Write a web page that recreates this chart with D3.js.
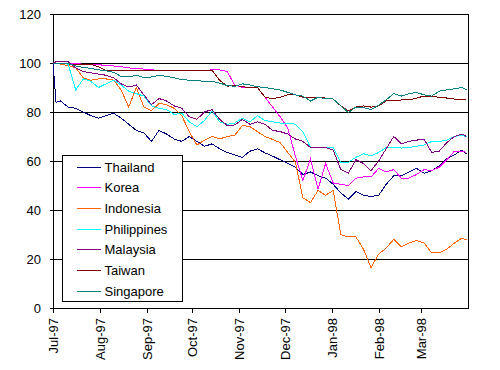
<!DOCTYPE html>
<html>
<head>
<meta charset="utf-8">
<script src="https://cdn.jsdelivr.net/npm/d3@7"></script>
<style>
  body { margin: 0; background: #fff; }
  text { font-family: "Liberation Sans", Arial, sans-serif; font-size: 13px; fill: #000; }
</style>
</head>
<body>
<svg id="chart"></svg>
<script>
// series names and colours
const countries = ['Thailand', 'Korea', 'Indonesia', 'Philippines', 'Malaysia', 'Taiwan', 'Singapore'];
const colors = ['#000080', '#ff00ff', '#ff6600', '#00ffff', '#800080', '#800000', '#008080'];

// sample dates (index, Jul 1 1997 = 100)
const dates = [
  '1997-07-01', '1997-07-03', '1997-07-06', '1997-07-11', '1997-07-16', '1997-07-21', '1997-07-26', '1997-07-31',
  '1997-08-05', '1997-08-10', '1997-08-15', '1997-08-20', '1997-08-25', '1997-08-30',
  '1997-09-04', '1997-09-09', '1997-09-14', '1997-09-19', '1997-09-24', '1997-09-29',
  '1997-10-04', '1997-10-09', '1997-10-14', '1997-10-19', '1997-10-24', '1997-10-29',
  '1997-11-03', '1997-11-08', '1997-11-13', '1997-11-18', '1997-11-23', '1997-11-28',
  '1997-12-03', '1997-12-08', '1997-12-13', '1997-12-18', '1997-12-23', '1997-12-28',
  '1998-01-02', '1998-01-07', '1998-01-12', '1998-01-17', '1998-01-22', '1998-01-27',
  '1998-02-01', '1998-02-06', '1998-02-11', '1998-02-16', '1998-02-21', '1998-02-26',
  '1998-03-03', '1998-03-08', '1998-03-13', '1998-03-18', '1998-03-23', '1998-03-28', '1998-03-31'
];

const thailand = [100, 84, 84.5, 82, 81.5, 80, 78.5, 77.5, 78.5, 79.5, 77.5, 75, 72.5, 71.5, 68, 72.5, 71, 69, 68, 70,
  68, 66, 67, 65, 63.5, 62.5, 61.5, 64, 65, 63.3, 62, 60.5, 59, 57.5, 54.5, 55.5, 54, 53, 50.5, 47, 44.5, 47.5, 46, 45.5,
  46, 50.5, 54, 54, 55.5, 57, 55, 56, 58, 61, 62.5, 64.5, 63];
const korea = [100, 100, 100, 100, 99.8, 99.5, 99.5, 99.3, 99, 98.8, 98.5, 98, 97.8, 97.5, 97.2, 97, 97, 97, 97, 97,
  97, 97, 97.2, 97.2, 96.5, 91, 90, 90, 90, 86, 82, 78, 73.5, 62, 52, 61, 48.5, 59, 51, 50.5, 50, 53, 53.5, 53.5,
  57, 55.5, 56.5, 53, 53, 54.5, 56.5, 56, 57.5, 60.5, 64, 64, 63.5];
const indonesia = [100, 100, 99.5, 99, 98, 94, 93, 93.5, 93.5, 93, 89, 82, 90, 82, 80.5, 83.5, 83, 81.5, 78.5, 72,
  66.5, 68.5, 70, 69, 70, 70.5, 74.5, 74, 72, 70, 68.8, 67.5, 63.5, 59.5, 45, 43, 48, 46, 48, 30, 29, 29, 24, 16.5,
  22, 24.5, 28, 25, 26.5, 27.5, 26.5, 22.5, 22.5, 24, 26.5, 28.5, 27.8];
const philippines = [100, 100, 100, 99.5, 89, 93.5, 92.5, 90, 91.5, 93, 91, 88.5, 87.5, 86.5, 82.5, 81.5, 81, 79, 79.5, 76,
  74, 76.5, 80.5, 76, 75, 75.5, 77.5, 76, 78.5, 76.5, 76, 75.5, 75.5, 75, 72, 65.5, 65.5, 65.5, 65.5, 59.5, 59.5, 61.5, 63, 62,
  63.5, 65.5, 65.5, 65.3, 65.5, 66, 66.5, 68, 68, 68.5, 70, 70.5, 69.8];
const malaysia = [100, 100.5, 100.5, 100.5, 98, 96.5, 96, 95.5, 95, 94, 91.5, 90.2, 91, 87, 83, 85.5, 84.5, 82.5, 81.5, 78,
  77, 80, 81, 77, 74.5, 74.7, 77, 75, 76, 75, 72.5, 72, 71, 69, 68, 65.5, 65.5, 65.5, 64.5, 56.5, 55, 60.5, 59, 56,
  60, 65, 70, 67, 68, 68.5, 69, 63.5, 64, 67.5, 70, 71, 70];
const taiwan = [100, 100, 99.7, 99.6, 99.5, 99.5, 99.5, 98.5, 97, 97, 97, 97, 97, 97, 97, 97, 97, 97, 97, 97,
  97, 97, 97, 93, 90.5, 91, 90.3, 90, 90, 86, 85.5, 86, 87, 87, 86, 86, 86, 85.7, 85.3, 82.5, 80.5, 82, 82.5, 82,
  82.5, 84.5, 84.5, 84.9, 84.9, 85.7, 86.5, 86.5, 86, 85.7, 85.3, 85, 84.9];
const singapore = [100, 100, 99.8, 99.8, 98.8, 98.2, 97.8, 97.2, 96.8, 96.2, 94.5, 94.3, 95, 94, 94.3, 95, 94.5, 94, 93.2, 93,
  92.8, 92.5, 92.5, 91.8, 90.8, 90.5, 91.5, 91, 90.3, 90, 89.5, 89, 88, 87, 86.5, 84.5, 86, 85.5, 85.3, 82.5, 79.8, 82, 81.8, 81,
  82.8, 85, 87.5, 86.5, 87.5, 88, 87, 86.5, 88.5, 89, 89.5, 90, 89];

const seriesValues = [thailand, korea, indonesia, philippines, malaysia, taiwan, singapore];

// axis ticks
const yTicks = [0, 20, 40, 60, 80, 100, 120];
const monthTicks = ['1997-07-01', '1997-08-01', '1997-09-01', '1997-10-01', '1997-11-01', '1997-12-01',
  '1998-01-01', '1998-02-01', '1998-03-01'];

const W = 500, H = 370;
const margin = {top: 14, right: 32, bottom: 62, left: 53};
const width = W - margin.left - margin.right,
      height = H - margin.top - margin.bottom;

const parse = d3.timeParse('%Y-%m-%d');
const xDates = dates.map(parse);

const svg = d3.select('#chart').attr('width', W).attr('height', H);
const g = svg.append('g').attr('transform', 'translate(' + margin.left + ',' + margin.top + ')');

const x = d3.scaleTime()
  .domain([parse('1997-07-01'), parse('1998-04-01')])
  .range([0, width]);

const y = d3.scaleLinear()
  .domain([0, 120])
  .range([height, 0]);

// horizontal grid lines
g.append('g')
  .selectAll('line')
  .data(yTicks.filter(d => d > 0))
  .enter().append('line')
  .attr('x1', 0).attr('x2', width)
  .attr('y1', d => Math.round(y(d)) + 0.5).attr('y2', d => Math.round(y(d)) + 0.5)
  .attr('stroke', '#000')
  .attr('shape-rendering', 'crispEdges');

// right border
g.append('line')
  .attr('x1', width + 0.5).attr('x2', width + 0.5)
  .attr('y1', 0).attr('y2', height)
  .attr('stroke', '#000')
  .attr('shape-rendering', 'crispEdges');

const yAxis = d3.axisLeft(y).tickValues(yTicks).tickSize(3).tickPadding(9);
g.append('g')
  .call(yAxis)
  .call(a => a.selectAll('text').style('font-size', '13px').style('font-family', '"Liberation Sans", Arial, sans-serif'))
  .call(a => a.selectAll('path, line').attr('shape-rendering', 'crispEdges'));

const xAxis = d3.axisBottom(x)
  .tickValues(monthTicks.map(parse))
  .tickSize(5)
  .tickFormat(d3.timeFormat('%b-%y'))
  .tickSizeOuter(0);

g.append('g')
  .attr('transform', 'translate(0,' + height + ')')
  .call(xAxis)
  .call(a => a.selectAll('path, line').attr('shape-rendering', 'crispEdges'))
  .call(a => a.selectAll('text')
    .attr('transform', 'rotate(-90)')
    .attr('x', -10)
    .attr('y', 0)
    .attr('dy', '0.35em')
    .style('text-anchor', 'end')
    .style('font-size', '13px')
    .style('font-family', '"Liberation Sans", Arial, sans-serif'));

const line = d3.line()
  .x((d, i) => x(xDates[i]))
  .y(d => y(d));

g.append('g')
  .selectAll('path')
  .data(seriesValues)
  .enter().append('path')
  .attr('fill', 'none')
  .attr('stroke', (d, i) => colors[i])
  .attr('stroke-width', 1)
  .attr('shape-rendering', 'crispEdges')
  .attr('d', line);

// legend
const legend = svg.append('g').attr('transform', 'translate(62.5,155.5)');
legend.append('rect')
  .attr('width', 120).attr('height', 146)
  .attr('fill', '#fff').attr('stroke', '#000')
  .attr('shape-rendering', 'crispEdges');

const item = legend.selectAll('g.item')
  .data(countries)
  .enter().append('g')
  .attr('class', 'item')
  .attr('transform', (d, i) => 'translate(0,' + (11.5 + i * 20.7) + ')');

item.append('line')
  .attr('x1', 14).attr('x2', 38)
  .attr('y1', 0).attr('y2', 0)
  .attr('stroke', d => colors[countries.indexOf(d)])
  .attr('shape-rendering', 'crispEdges');

item.append('text')
  .attr('x', 42)
  .attr('dy', '0.36em')
  .text(d => d);
</script>
</body>
</html>
